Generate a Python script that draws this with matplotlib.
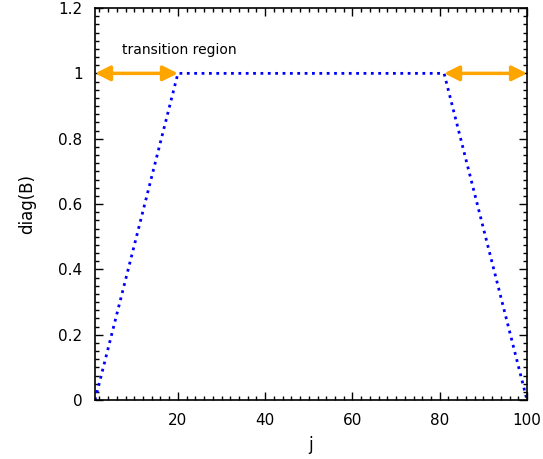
import matplotlib
matplotlib.use("Agg")
import matplotlib.pyplot as plt
from matplotlib.ticker import MultipleLocator

# diagonal of B: linear ramp, plateau, linear ramp back down
j = [1, 20, 81, 100]
diag_b = [0, 1, 1, 0]

# transition regions marked by arrows at the top
left_region = (1, 20)
right_region = (81, 100)

yticks = [0, 0.2, 0.4, 0.6, 0.8, 1.0, 1.2]
ytick_labels = ["0", "0.2", "0.4", "0.6", "0.8", "1", "1.2"]
xticks = [20, 40, 60, 80, 100]

fig = plt.figure(figsize=(5.43, 4.59), dpi=100)
ax = fig.add_axes([0.175, 0.1285, 0.7955, 0.854])

ax.plot(j, diag_b, color="blue", linestyle=":", linewidth=2.0)

arrow = dict(arrowstyle="<|-|>,head_length=0.9,head_width=0.45",
             color="orange", lw=2.5, shrinkA=0, shrinkB=0)
ax.annotate("", xy=(left_region[0], 1.0), xytext=(left_region[1], 1.0), arrowprops=arrow)
ax.annotate("", xy=(right_region[0], 1.0), xytext=(right_region[1], 1.0), arrowprops=arrow)
ax.text(7.2, 1.071, "transition region", fontsize=10, va="center", ha="left")

ax.set_xlim(1, 100)
ax.set_ylim(0, 1.2)
ax.set_xticks(xticks)
ax.set_yticks(yticks)
ax.set_yticklabels(ytick_labels)
ax.xaxis.set_minor_locator(MultipleLocator(2))
ax.yaxis.set_minor_locator(MultipleLocator(0.025))
ax.tick_params(which="both", direction="in", top=True, right=True, labelsize=11)
ax.tick_params(which="major", length=6, width=1)
ax.tick_params(which="minor", length=3, width=1)
ax.tick_params(axis="y", pad=9)
ax.tick_params(axis="x", pad=9)
for s in ax.spines.values():
    s.set_linewidth(1.2)

ax.set_xlabel("j", fontsize=12, labelpad=6)
ax.set_ylabel("diag(B)", fontsize=12, labelpad=16)

fig.savefig("out.png", dpi=100)
